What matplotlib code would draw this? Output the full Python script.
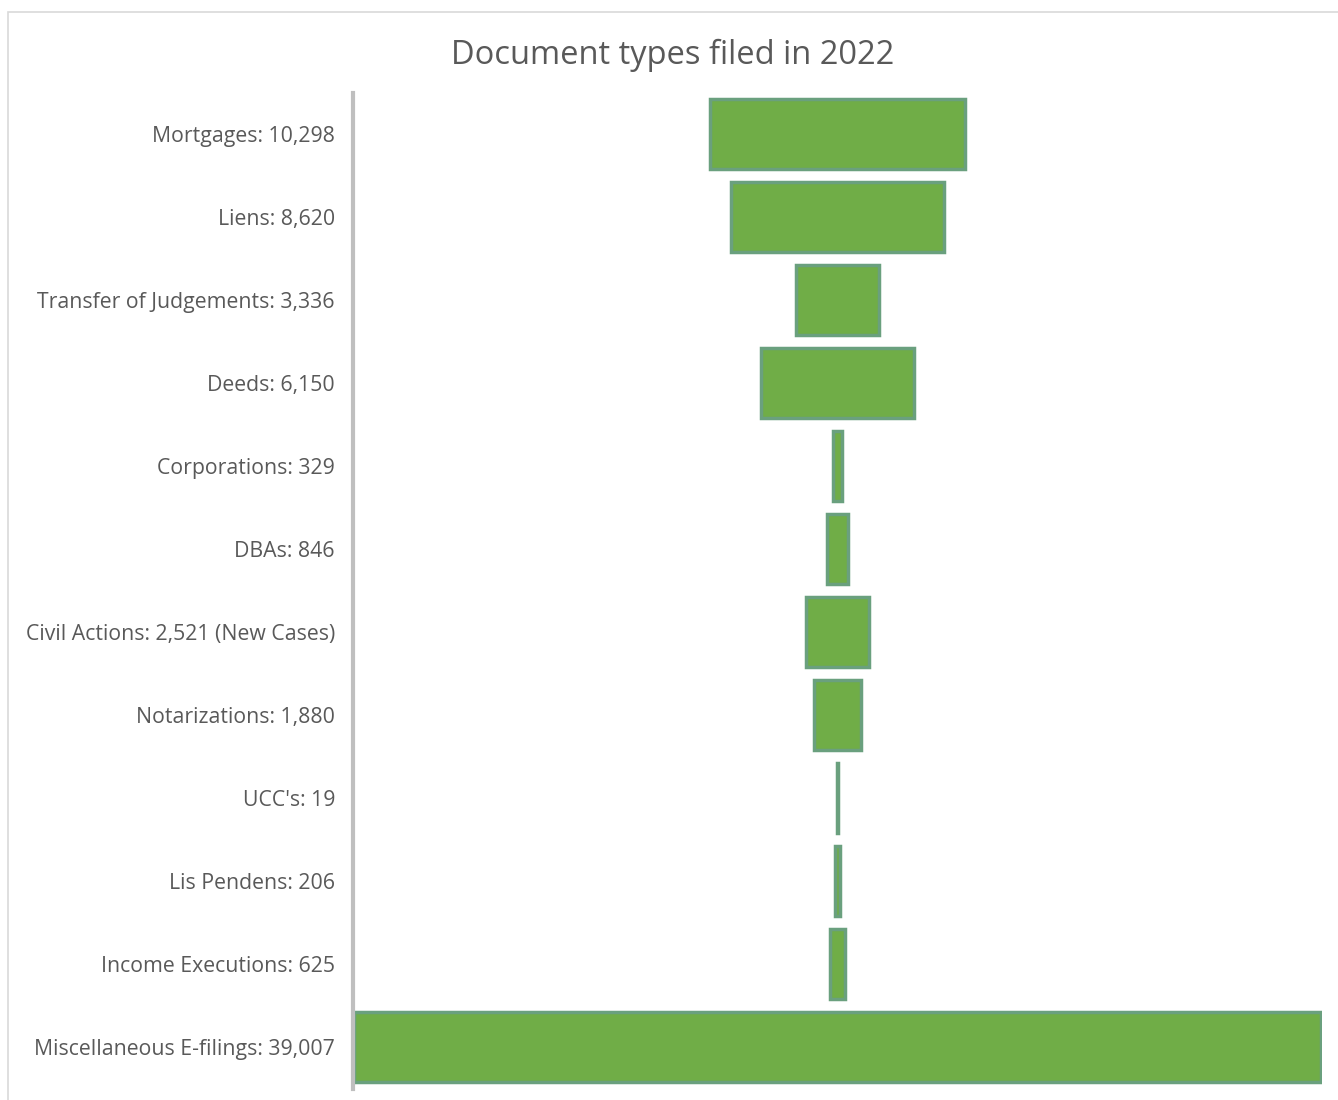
import matplotlib.pyplot as plt
from matplotlib.patches import Rectangle

# data
categories = ["Mortgages", "Liens", "Transfer of Judgements", "Deeds", "Corporations",
              "DBAs", "Civil Actions", "Notarizations", "UCC's", "Lis Pendens",
              "Income Executions", "Miscellaneous E-filings"]
values = [10298, 8620, 3336, 6150, 329, 846, 2521, 1880, 19, 206, 625, 39007]
labels = ["Mortgages: 10,298", "Liens: 8,620", "Transfer of Judgements: 3,336",
          "Deeds: 6,150", "Corporations: 329", "DBAs: 846",
          "Civil Actions: 2,521 (New Cases)", "Notarizations: 1,880", "UCC's: 19",
          "Lis Pendens: 206", "Income Executions: 625", "Miscellaneous E-filings: 39,007"]

plt.rcParams['font.family'] = ['Open Sans', 'DejaVu Sans']

fig = plt.figure(figsize=(13.38, 11), dpi=100)
ax = fig.add_axes([353 / 1338, 1 - 1088.5 / 1100, 969 / 1338, 996 / 1100])

# outer chart border
fig.patches.append(Rectangle((8 / 1338, -0.01), 1.0, 1 - 12 / 1100 + 0.01,
                             transform=fig.transFigure, fill=False,
                             edgecolor='#d9d9d9', linewidth=1.2))

# funnel: bars centred on zero
y = list(range(len(values)))
lefts = [-v / 2 for v in values]
ax.barh(y, values, left=lefts, height=0.84, color='#70ad47',
        edgecolor='#6aa07e', linewidth=2.5)

maxv = max(values)
ax.set_xlim(-maxv / 2 - 60, maxv / 2 + 60)
ax.set_ylim(len(values) - 0.5, -0.5)
ax.set_yticks(y)
ax.set_yticklabels(labels, fontsize=15.3, color='#595959')
ax.tick_params(axis='y', length=0, pad=13)
ax.set_xticks([])
for s in ['top', 'right', 'bottom']:
    ax.spines[s].set_visible(False)
ax.spines['left'].set_color('#bfbfbf')
ax.spines['left'].set_linewidth(3)

fig.text(0.503, 1 - 55 / 1100, "Document types filed in 2022", ha='center', va='center',
         fontsize=23.5, color='#595959')

plt.savefig("out.png")
